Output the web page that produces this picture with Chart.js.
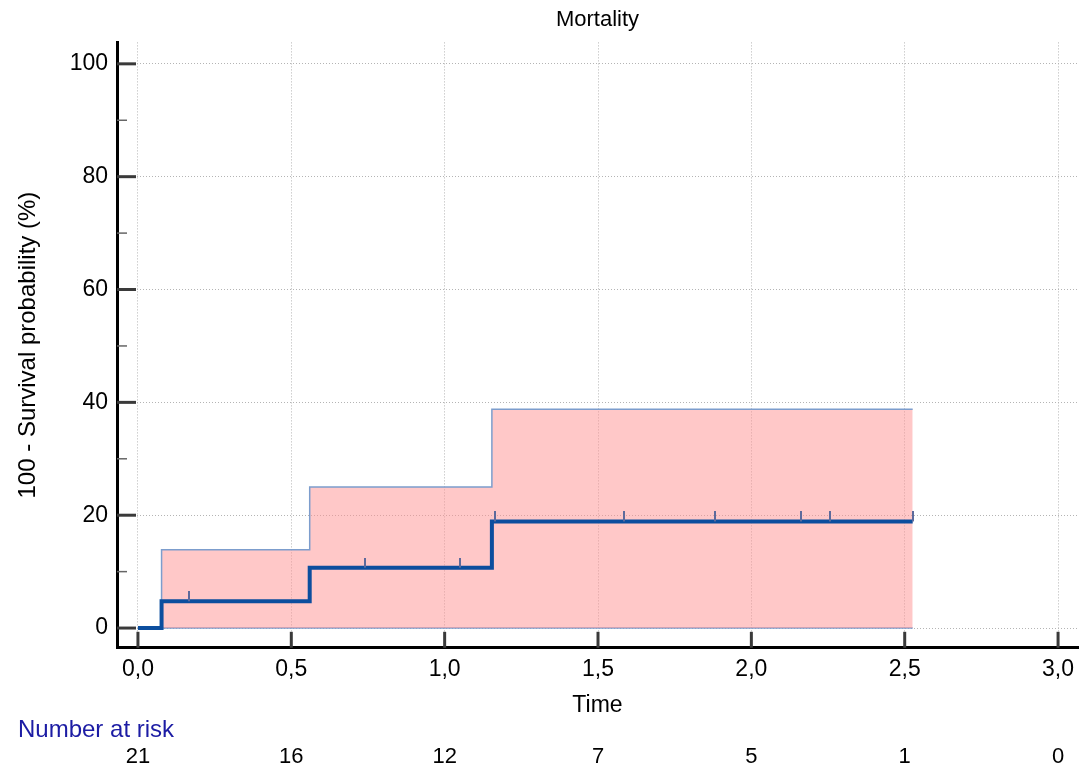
<!DOCTYPE html>
<html>
<head>
<meta charset="utf-8">
<script src="https://cdn.jsdelivr.net/npm/chart.js@4"></script>
<style>
  html, body { margin: 0; padding: 0; background: #fff; }
  #wrap { width: 1084px; height: 773px; }
</style>
</head>
<body>
<div id="wrap"><canvas id="km"></canvas></div>
<script>
// Kaplan-Meier (mortality = 100 - survival)
const kmTimes = [0, 0.077, 0.56, 1.154, 2.526];
const kmValues = [0, 4.76, 10.7, 18.9, 18.9];

const upperTimes = [0, 0.077, 0.56, 1.154, 2.526];
const upperValues = [0, 13.9, 25.0, 38.8, 38.8];

const lowerTimes = [0, 0.077, 2.526];
const lowerValues = [0, 0, 0];

// censored observations
const censorTimes = [0.165, 0.741, 1.05, 1.164, 1.584, 1.881, 2.163, 2.258, 2.526];
const censorValues = [4.76, 10.7, 10.7, 18.9, 18.9, 18.9, 18.9, 18.9, 18.9];

const xTicks = [0, 0.5, 1, 1.5, 2, 2.5, 3];
const yTicks = [0, 20, 40, 60, 80, 100];
const yMinorTicks = [10, 30, 50, 70, 90];
const atRisk = [21, 16, 12, 7, 5, 1, 0];

const FONT = 'Arial, "Liberation Sans", sans-serif';

function pts(xs, ys) {
  return xs.map((x, i) => ({x: x, y: ys[i]}));
}

// small vertical tick for censored points (drawn above the point)
const censorMark = document.createElement('canvas');
censorMark.width = 2;
censorMark.height = 20;
const cm = censorMark.getContext('2d');
cm.fillStyle = '#5d6a9c';
cm.fillRect(0, 0, 2, 10);

const axisTicks = {
  id: 'axisTicks',
  afterDraw(chart) {
    const ctx = chart.ctx;
    const xs = chart.scales.x, ys = chart.scales.y;
    const area = chart.chartArea;
    ctx.save();
    ctx.strokeStyle = '#3a3a3a';
    ctx.lineWidth = 3;
    xTicks.forEach(v => {
      const px = xs.getPixelForValue(v);
      ctx.beginPath();
      ctx.moveTo(px, area.bottom);
      ctx.lineTo(px, area.bottom - 16);
      ctx.stroke();
    });
    yTicks.forEach(v => {
      const py = ys.getPixelForValue(v);
      ctx.beginPath();
      ctx.moveTo(area.left, py);
      ctx.lineTo(area.left + 19, py);
      ctx.stroke();
    });
    ctx.lineWidth = 1.5;
    ctx.strokeStyle = '#666';
    yMinorTicks.forEach(v => {
      const py = ys.getPixelForValue(v);
      ctx.beginPath();
      ctx.moveTo(area.left, py);
      ctx.lineTo(area.left + 10, py);
      ctx.stroke();
    });

    // number at risk table
    ctx.textBaseline = 'middle';
    ctx.textAlign = 'left';
    ctx.font = '24px ' + FONT;
    ctx.fillStyle = '#1c1ca4';
    ctx.fillText('Number at risk', 18, 730);
    ctx.font = '22px ' + FONT;
    ctx.textAlign = 'center';
    ctx.fillStyle = '#000';
    xTicks.forEach((v, i) => {
      ctx.fillText(String(atRisk[i]), xs.getPixelForValue(v), 757);
    });
    ctx.restore();
  }
};

const gridStyle = {
  color: '#b4b4b4',
  lineWidth: 1,
  drawTicks: false
};

new Chart(document.getElementById('km'), {
  type: 'line',
  data: {
    datasets: [
      {
        label: 'censored',
        data: pts(censorTimes, censorValues),
        showLine: false,
        pointStyle: censorMark,
        pointRadius: 5,
        pointHoverRadius: 5
      },
      {
        label: 'Mortality',
        data: pts(kmTimes, kmValues),
        stepped: true,
        borderColor: '#0c4e9e',
        borderWidth: 4,
        pointRadius: 0,
        fill: false
      },
      {
        label: 'Upper 95% CI',
        data: pts(upperTimes, upperValues),
        stepped: true,
        borderColor: '#7c9dcd',
        borderWidth: 1.5,
        pointRadius: 0,
        fill: '+1',
        backgroundColor: 'rgba(255,145,145,0.5)'
      },
      {
        label: 'Lower 95% CI',
        data: pts(lowerTimes, lowerValues),
        stepped: true,
        borderColor: '#7c9dcd',
        borderWidth: 1.5,
        pointRadius: 0,
        fill: false
      }
    ]
  },
  options: {
    responsive: true,
    maintainAspectRatio: false,
    animation: false,
    layout: { padding: { top: 0, right: 4, bottom: 54, left: 0 } },
    plugins: {
      legend: { display: false },
      tooltip: { enabled: false },
      title: {
        display: true,
        fullSize: false,
        text: 'Mortality',
        color: '#000',
        font: { family: FONT, size: 22, weight: 'normal' },
        padding: { top: 7, bottom: 9 }
      }
    },
    scales: {
      x: {
        type: 'linear',
        min: -0.0683,
        max: 3.065,
        afterBuildTicks: s => { s.ticks = xTicks.map(v => ({value: v})); },
        ticks: {
          color: '#000',
          padding: 8,
          font: { family: FONT, size: 23 },
          callback: v => v.toFixed(1).replace('.', ',')
        },
        grid: Object.assign({}, gridStyle),
        border: { display: true, color: '#000', width: 3, dash: [1, 2] },
        title: {
          display: true,
          text: 'Time',
          color: '#000',
          font: { family: FONT, size: 23 },
          padding: { top: 0, bottom: 0 }
        }
      },
      y: {
        type: 'linear',
        min: -3.5,
        max: 103.8,
        afterBuildTicks: s => { s.ticks = yTicks.map(v => ({value: v})); },
        afterFit: s => { s.width = 117; },
        ticks: {
          color: '#000',
          padding: 9,
          font: { family: FONT, size: 23 }
        },
        grid: Object.assign({}, gridStyle),
        border: { display: true, color: '#000', width: 3, dash: [1, 2] },
        title: {
          display: true,
          text: '100 - Survival probability (%)',
          color: '#000',
          font: { family: FONT, size: 24 },
          padding: { top: 14, bottom: 0 }
        }
      }
    }
  },
  plugins: [axisTicks]
});
</script>
</body>
</html>
